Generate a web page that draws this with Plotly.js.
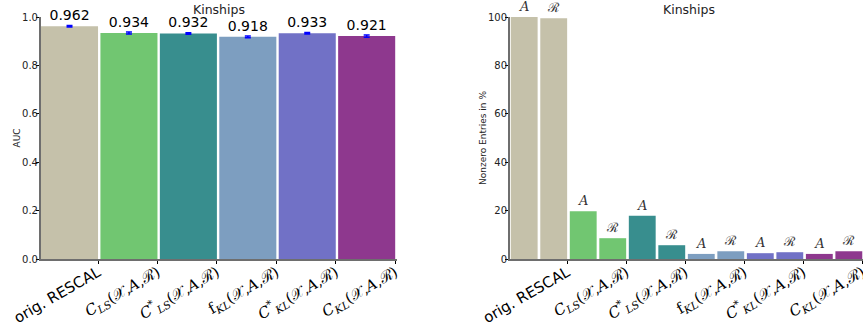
<!DOCTYPE html>
<html><head><meta charset="utf-8">
<script src="https://cdn.plot.ly/plotly-3.0.1.min.js"></script>
<style>html,body{margin:0;padding:0;background:#fff}#chart{width:863px;height:324px}</style>
</head><body><div id="chart"></div>
<script>
const methodLabels = [
  'orig. RESCAL',
  '<span style="font-family:DejaVu Serif"><i>C</i><sub><i>LS</i></sub>(𝒳,<i>A</i>,ℛ)</span>',
  '<span style="font-family:DejaVu Serif"><i>C</i><sup>*</sup><sub><i>LS</i></sub>(𝒳,<i>A</i>,ℛ)</span>',
  '<span style="font-family:DejaVu Serif">f<sub><i>KL</i></sub>(𝒳,<i>A</i>,ℛ)</span>',
  '<span style="font-family:DejaVu Serif"><i>C</i><sup>*</sup><sub><i>KL</i></sub>(𝒳,<i>A</i>,ℛ)</span>',
  '<span style="font-family:DejaVu Serif"><i>C</i><sub><i>KL</i></sub>(𝒳,<i>A</i>,ℛ)</span>'
];
const colors = ['#C5C1AA', '#71C671', '#388E8E', '#7D9EC0', '#7171C6', '#8E388E'];
const auc = [0.962, 0.934, 0.932, 0.918, 0.933, 0.921];
const aucErr = [0.003, 0.004, 0.003, 0.004, 0.003, 0.005];
const nonzeroA = [100, 19.7, 17.9, 2.1, 2.4, 2.1];
const nonzeroR = [99.5, 8.6, 5.7, 3.2, 2.8, 3.2];
const pairLabels = ['<i>A</i>', 'ℛ'];
const yTicksAuc = [0, 0.2, 0.4, 0.6, 0.8, 1.0];
const yTicksNz = [0, 20, 40, 60, 80, 100];

const idx = auc.map((_, i) => i);

const traces = [
  {
    type: 'bar', x: idx, y: auc, width: 0.96,
    marker: {color: colors, line: {width: 0}},
    text: auc.map(v => v.toFixed(3)), textposition: 'outside', cliponaxis: false,
    textfont: {family: 'DejaVu Sans', size: 14, color: '#000'},
    error_y: {type: 'data', array: aucErr, color: '#0000ff', thickness: 1.5, width: 3},
    xaxis: 'x', yaxis: 'y', hoverinfo: 'none'
  },
  {
    type: 'bar', x: idx.map(i => 2 * i), y: nonzeroA, width: 0.91,
    marker: {color: colors, line: {width: 0}},
    text: idx.map(() => pairLabels[0]), textposition: 'outside', cliponaxis: false,
    textfont: {family: 'DejaVu Serif', size: 13, color: '#333'},
    xaxis: 'x2', yaxis: 'y2', hoverinfo: 'none'
  },
  {
    type: 'bar', x: idx.map(i => 2 * i + 1), y: nonzeroR, width: 0.91,
    marker: {color: colors, line: {width: 0}},
    text: idx.map(() => pairLabels[1]), textposition: 'outside', cliponaxis: false,
    textfont: {family: 'DejaVu Serif', size: 13, color: '#333'},
    xaxis: 'x2', yaxis: 'y2', hoverinfo: 'none'
  }
];

const axisCommon = {
  showgrid: false, zeroline: false, showline: true, linecolor: '#6e6e6e', linewidth: 2,
  ticks: 'outside', ticklen: 3, tickwidth: 1, tickcolor: '#000', ticklabeloverflow: 'allow'
};

const layout = {
  width: 863, height: 324,
  margin: {l: 0, r: 0, t: 17, b: 65},
  paper_bgcolor: '#fff', plot_bgcolor: '#fff',
  showlegend: false, barmode: 'overlay',
  font: {family: 'DejaVu Sans', color: '#222'},
  xaxis: Object.assign({}, axisCommon, {
    domain: [0.0475, 0.46], range: [-0.48, 5.51],
    tickvals: idx.map(i => i + 0.48), ticktext: methodLabels,
    tickangle: -30, tickfont: {size: 15, color: '#000'}, ticklabelstandoff: -6
  }),
  yaxis: Object.assign({}, axisCommon, {
    range: [0, 1], tickvals: yTicksAuc, ticktext: yTicksAuc.map(v => v.toFixed(1)),
    tickfont: {size: 10, color: '#222'}, ticklabelstandoff: -4,
    title: {text: 'AUC', font: {size: 9, color: '#222'}, standoff: 0}
  }),
  xaxis2: Object.assign({}, axisCommon, {
    domain: [0.591, 1.0], range: [-0.48, 11.48], anchor: 'y2',
    tickvals: idx.map(i => 2 * i + 1.46), ticktext: methodLabels,
    tickangle: -30, tickfont: {size: 15, color: '#000'}, ticklabelstandoff: -6
  }),
  yaxis2: Object.assign({}, axisCommon, {
    range: [0, 100], anchor: 'x2', tickvals: yTicksNz, ticktext: yTicksNz.map(String),
    tickfont: {size: 10, color: '#222'}, ticklabelstandoff: -4,
    title: {text: 'Nonzero Entries in %', font: {size: 9, color: '#222'}, standoff: 0}
  }),
  annotations: [
    {text: 'Kinships', xref: 'paper', yref: 'paper', x: 0.254, y: 1, yshift: 8, showarrow: false,
     font: {size: 12.5, color: '#222'}, xanchor: 'center', yanchor: 'middle'},
    {text: 'Kinships', xref: 'paper', yref: 'paper', x: 0.798, y: 1, yshift: 8, showarrow: false,
     font: {size: 12.5, color: '#222'}, xanchor: 'center', yanchor: 'middle'}
  ]
};

Plotly.newPlot('chart', traces, layout, {staticPlot: true});
</script>
</body></html>
